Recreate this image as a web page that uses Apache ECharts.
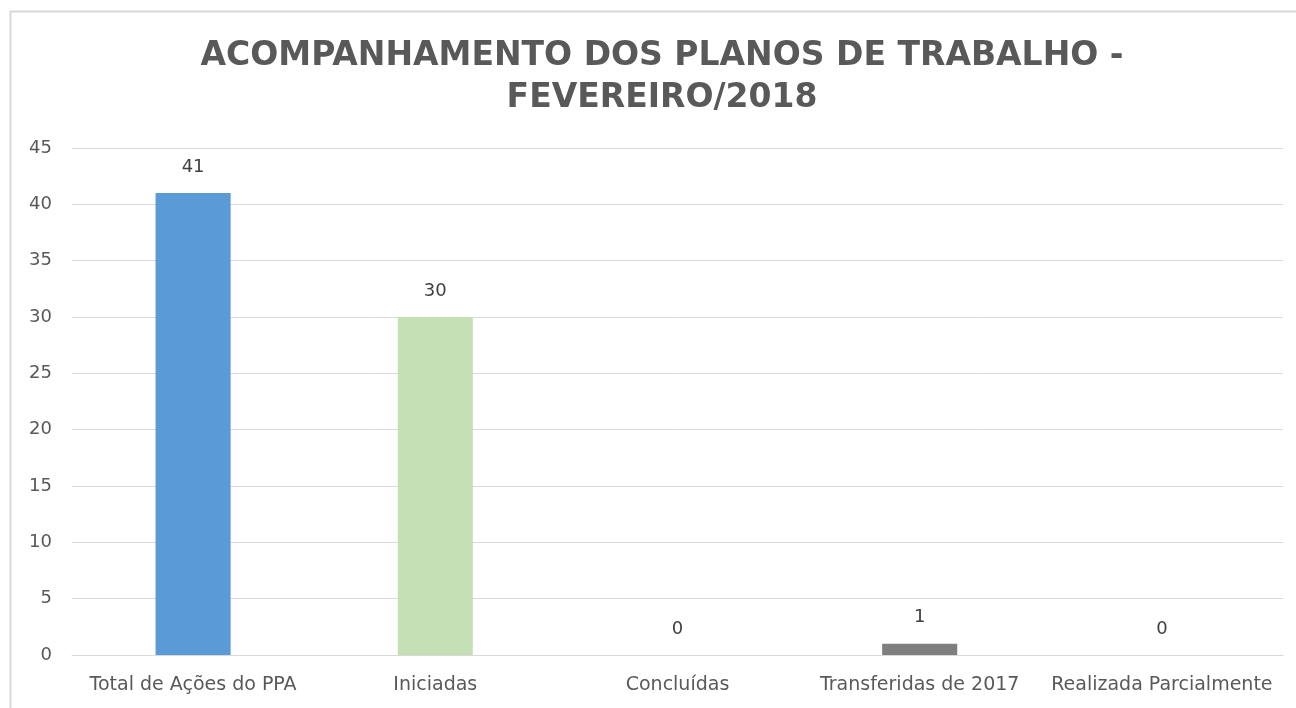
<!DOCTYPE html>
<html>
<head>
    <meta charset="utf-8"/>
    <title>ECharts</title>
    <script src="https://cdn.jsdelivr.net/npm/echarts@6/dist/echarts.min.js"></script>
    <style>
        html, body { margin: 0; padding: 0; background: #fff; }
    </style>
</head>
<body>
<div id="main" style="width: 1296px; height: 708px;"></div>
<script type="text/javascript">
    // dados do gráfico
    var categorias = ['Total de Ações do PPA', 'Iniciadas', 'Concluídas', 'Transferidas de 2017', 'Realizada Parcialmente'];
    var valores = [41, 30, 0, 1, 0];
    var cores = ['#5B9BD5', '#C5E0B4', '#A5A5A5', '#7F7F7F', '#FFC000'];

    var myChart = echarts.init(document.getElementById('main'));

    var option = {
        backgroundColor: '#ffffff',
        animation: false,
        title: {
            text: 'ACOMPANHAMENTO DOS PLANOS DE TRABALHO -\nFEVEREIRO/2018',
            left: 657,
            top: 30,
            textAlign: 'center',
            textStyle: {
                color: '#595959',
                fontFamily: 'DejaVu Sans',
                fontWeight: 'bold',
                fontSize: 33,
                lineHeight: 42
            }
        },
        graphic: [{
            type: 'rect',
            shape: { x: 10.5, y: 11.5, width: 1300, height: 720 },
            style: { fill: 'none', stroke: '#d9d9d9', lineWidth: 2 },
            silent: true
        }],
        grid: {
            left: 72,
            right: 13,
            top: 148,
            bottom: 53
        },
        xAxis: {
            type: 'category',
            data: categorias,
            axisTick: { show: false },
            axisLine: { lineStyle: { color: '#d9d9d9', width: 1 } },
            axisLabel: {
                interval: 0,
                color: '#595959',
                fontFamily: 'DejaVu Sans',
                fontSize: 19,
                margin: 21
            }
        },
        yAxis: {
            type: 'value',
            min: 0,
            max: 45,
            interval: 5,
            axisLine: { show: false },
            axisTick: { show: false },
            splitLine: { lineStyle: { color: '#d9d9d9', width: 1 } },
            axisLabel: {
                color: '#595959',
                fontFamily: 'DejaVu Sans',
                fontSize: 18,
                margin: 20
            }
        },
        series: [{
            type: 'bar',
            barWidth: '31%',
            data: valores.map(function (v, i) {
                return { value: v, itemStyle: { color: cores[i] } };
            }),
            label: {
                show: true,
                position: 'top',
                distance: 17,
                color: '#404040',
                fontFamily: 'DejaVu Sans',
                fontSize: 18
            }
        }]
    };

    myChart.setOption(option);
</script>
</body>
</html>
